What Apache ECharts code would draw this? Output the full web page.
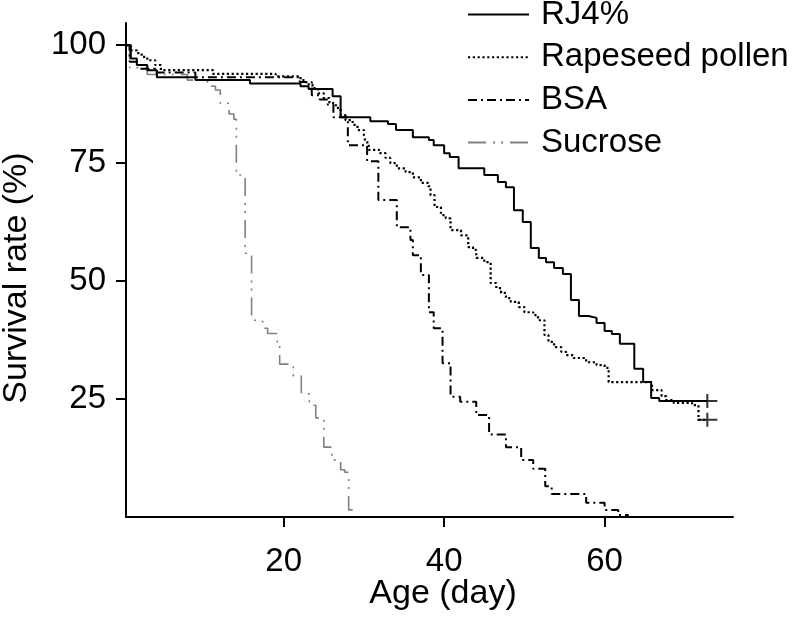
<!DOCTYPE html>
<html><head><meta charset="utf-8">
<script src="https://cdn.jsdelivr.net/npm/echarts@6/dist/echarts.min.js"></script>
<style>html,body{margin:0;padding:0;background:#fff}#c{width:795px;height:620px}</style>
</head><body><div id="c"></div>
<script>
const seriesNames = ['RJ4%', 'Rapeseed pollen', 'BSA', 'Sucrose'];
const xTicks = [20, 40, 60];
const yTicks = [25, 50, 75, 100];
const xTitle = 'Age (day)';
const yTitle = 'Survival rate (%)';

const rjDays = [0.35,0.95,1.7,3.0,4.2,9.0,15.8,22.1,23.1,26.1,27.1,30.8,33.0,34.0,36.1,38.1,38.7,40.0,40.7,41.8,45.0,46.7,47.7,48.7,49.8,50.8,51.8,52.7,53.7,54.8,55.8,56.8,58.0,59.0,60.0,60.9,61.9,63.7,64.8,65.8,66.8,72.8];
const rjSurv = [100,97.2,95.8,94.7,93.2,92.6,91.9,91.3,90.7,89.2,84.7,83.9,83.3,82.0,80.5,79.9,78.8,77.1,76.3,73.9,72.5,71.0,69.9,65.0,62.5,57.0,54.9,54.0,52.8,51.5,46.0,42.6,42.2,41.1,39.4,38.8,36.7,31.4,28.6,25.2,24.6,24.6];

const rpDays = [0.35,0.95,1.7,2.3,3.0,4.0,4.7,11.2,19.0,22.1,22.8,23.6,24.3,25.0,25.7,26.5,27.1,27.7,28.6,29.2,30.0,30.2,30.6,31.9,32.7,33.3,34.1,35.2,36.1,37.1,38.0,38.3,38.8,39.6,40.2,40.8,42.1,43.0,43.6,44.0,45.0,45.8,46.5,47.1,47.7,48.3,49.3,50.0,51.1,51.7,52.5,53.0,53.7,54.6,55.2,56.1,57.7,59.0,60.0,60.5,65.9,67.1,67.7,68.6,70.9,71.7,72.8];
const rpSurv = [100,98.9,98.3,97.5,96.8,95.8,94.7,93.9,93.4,92.6,91.7,90.9,89.8,88.8,87.7,86.7,85.2,84.1,83.1,82.0,80.9,79.4,77.8,77.1,76.1,75.0,73.9,73.1,72.0,70.8,70.1,68.2,65.7,64.0,63.3,60.8,59.7,57.2,56.6,54.9,54.0,49.6,48.5,47.5,46.4,45.6,44.5,43.4,42.8,41.7,38.6,37.1,36.0,35.0,34.3,33.7,32.8,32.2,31.6,28.6,26.9,25.6,24.8,24.2,23.7,20.6,20.6];

const bsaDays = [0.35,0.8,2.0,4.0,9.0,22.0,23.5,24.5,25.5,26.2,28.0,30.4,31.8,34.1,35.8,36.1,37.1,38.1,38.7,39.8,40.8,42.0,44.0,45.6,47.7,49.6,51.1,52.6,53.4,57.7,60.0,61.7,63.0];
const bsaSurv = [100,96.5,95.0,94.2,93.2,92.2,89.4,88.5,87.4,84.7,78.8,75.4,67.2,61.4,58.7,55.5,51.3,43.4,40.0,32.6,25.5,24.4,21.6,17.5,14.8,12.1,10.2,6.5,4.9,3.0,1.5,0.4,0.4];

const sucDays = [0.35,0.8,3.0,8.0,10.5,11.5,12.1,13.2,13.8,14.1,15.2,16.0,17.0,17.5,18.0,19.2,19.5,21.2,22.2,23.2,24.0,25.0,26.0,27.1,27.6,28.1,29.2];
const sucSurv = [100,95.2,93.8,92.6,91.3,90.5,87.7,85.4,84.3,72.5,55.9,41.7,41.3,40.0,38.9,36.9,32.4,29.9,26.1,23.7,21.0,14.8,12.1,10.0,9.5,1.5,1.5];

const censorDays = [72.8, 72.8];
const censorSurv = [24.6, 20.6];

function zip(a, b) { return a.map((d, i) => [d, b[i]]); }
const FONT = '"Liberation Sans", Arial, Helvetica, sans-serif';
const chart = echarts.init(document.getElementById('c'), null, {renderer: 'canvas'});

const axisCommon = {
  axisLine: {show: true, lineStyle: {color: '#000', width: 2}},
  splitLine: {show: false}
};

chart.setOption({
  animation: false,
  backgroundColor: '#fff',
  grid: {left: 126, top: 23, width: 607, height: 494},
  xAxis: Object.assign({
    type: 'value', min: 0.35, max: 76,
    axisTick: {show: true, customValues: xTicks, length: 10, lineStyle: {color: '#000', width: 2}},
    axisLabel: {customValues: xTicks, margin: 28, fontSize: 33, color: '#000', fontFamily: FONT}
  }, axisCommon),
  yAxis: Object.assign({
    type: 'value', min: 0, max: 104.7,
    axisTick: {show: true, customValues: yTicks, length: 10, lineStyle: {color: '#000', width: 2}},
    axisLabel: {customValues: yTicks, margin: 20, fontSize: 33, color: '#000', fontFamily: FONT}
  }, axisCommon),
  legend: {
    orient: 'vertical', left: 467, top: -2, padding: 0,
    itemWidth: 61, itemHeight: 14, itemGap: 9.7,
    data: seriesNames,
    itemStyle: {opacity: 0},
    textStyle: {fontSize: 33, color: '#000', fontFamily: FONT, padding: [0, 0, 0, 7]}
  },
  graphic: [
    {type: 'text', x: 443, y: 594, style: {text: xTitle, font: '34px ' + FONT, fill: '#000', align: 'center', verticalAlign: 'middle'}},
    {type: 'text', x: 17, y: 278, rotation: Math.PI / 2, style: {text: yTitle, font: '34px ' + FONT, fill: '#000', align: 'center', verticalAlign: 'middle'}}
  ],
  series: [
    {name: seriesNames[3], type: 'line', step: 'end', symbol: 'none', color: '#808080', z: 2,
     data: zip(sucDays, sucSurv), lineStyle: {color: '#808080', width: 1.6, type: [18, 7, 2, 6, 2, 7]}},
    {name: seriesNames[2], type: 'line', step: 'end', symbol: 'none', color: '#000', z: 3,
     data: zip(bsaDays, bsaSurv), lineStyle: {color: '#000', width: 2, type: [9, 4, 2, 4]}},
    {name: seriesNames[1], type: 'line', step: 'end', symbol: 'none', color: '#000', z: 4,
     data: zip(rpDays, rpSurv), lineStyle: {color: '#000', width: 2.2, type: [2.2, 2.6]}},
    {name: seriesNames[0], type: 'line', step: 'end', symbol: 'none', color: '#000', z: 5,
     data: zip(rjDays, rjSurv), lineStyle: {color: '#000', width: 2, type: 'solid'}},
    {name: 'censored', type: 'scatter', z: 6, color: '#000',
     symbol: 'path://M0,6H9V0H11V6H20V8H11V14H9V8H0Z', symbolSize: [20, 14],
     data: zip(censorDays, censorSurv)}
  ]
});
</script>
</body></html>
